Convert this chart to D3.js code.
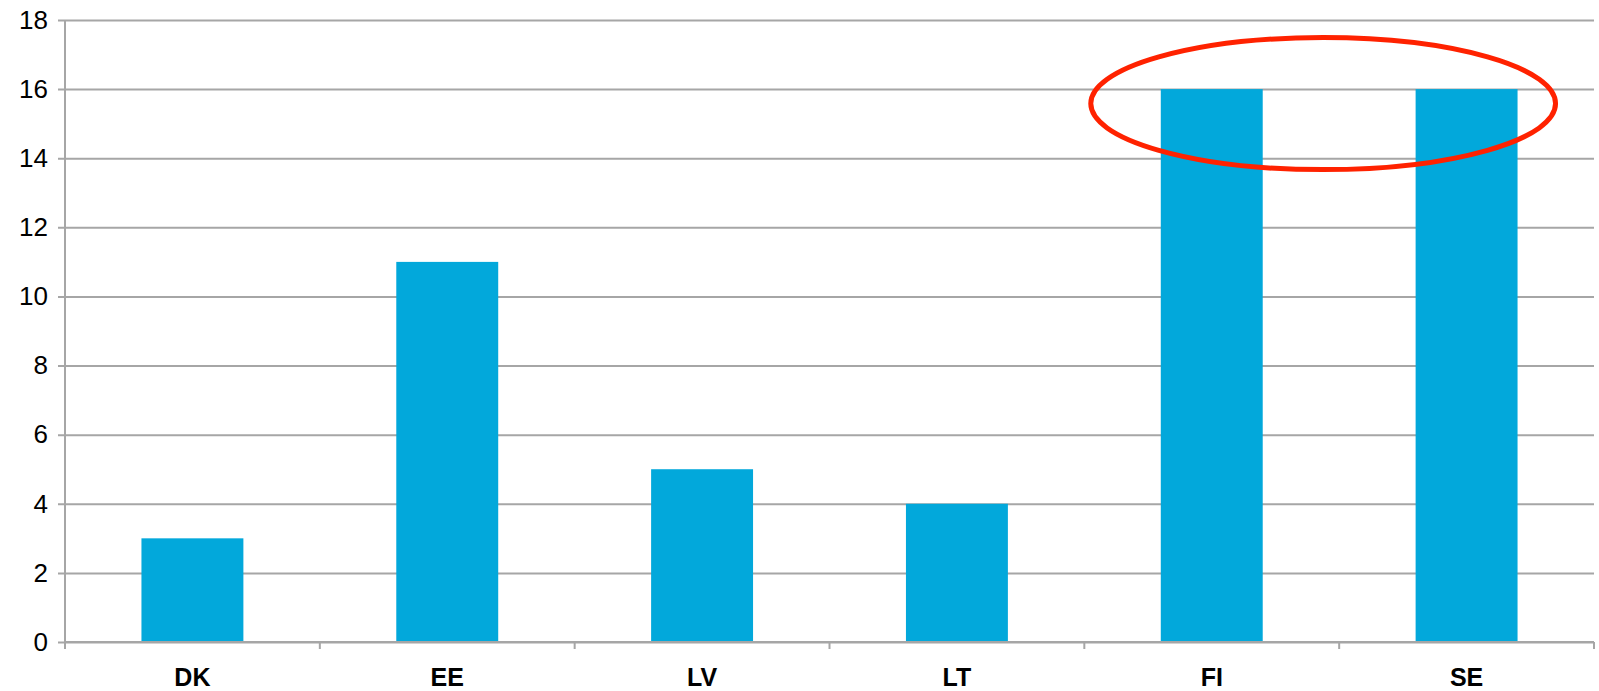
<!DOCTYPE html>
<html>
<head>
<meta charset="utf-8">
<script src="https://cdn.jsdelivr.net/npm/d3@7"></script>
<style>
  body { margin: 0; background: #fff; }
  text { font-family: "Liberation Sans", Arial, sans-serif; }
</style>
</head>
<body>
<div id="chart"></div>
<script>
// chart data
var countries = ["DK", "EE", "LV", "LT", "FI", "SE"];
var values = [3, 11, 5, 4, 16, 16];
var yTicks = [0, 2, 4, 6, 8, 10, 12, 14, 16, 18];
// highlighted categories (red ellipse)
var highlight = ["FI", "SE"];

var svgWidth = 1599;
var svgHeight = 691;

var margin = { top: 20, right: 5, bottom: 49, left: 65 };
var chartWidth = svgWidth - margin.left - margin.right;
var chartHeight = svgHeight - margin.top - margin.bottom;

var svg = d3.select("#chart")
  .append("svg")
  .attr("width", svgWidth)
  .attr("height", svgHeight);

var chartGroup = svg.append("g")
  .attr("transform", `translate(${margin.left}, ${margin.top})`);

var xScale = d3.scaleBand()
  .domain(countries)
  .range([0, chartWidth])
  .paddingInner(0.6)
  .paddingOuter(0.3);

var yScale = d3.scaleLinear()
  .domain([0, 18])
  .range([chartHeight, 0]);

// gridlines + y axis
var yAxis = d3.axisLeft(yScale)
  .tickValues(yTicks)
  .tickSize(-chartWidth)
  .tickPadding(17)
  .tickFormat(d3.format("d"));

var yG = chartGroup.append("g").call(yAxis);
yG.select(".domain").remove();
yG.selectAll(".tick line")
  .attr("x1", -7)
  .attr("stroke", "#a6a6a6")
  .attr("stroke-width", 2);
yG.selectAll(".tick text")
  .attr("font-size", "26px")
  .attr("fill", "#000");

// vertical axis line
chartGroup.append("line")
  .attr("x1", 0).attr("x2", 0)
  .attr("y1", 0).attr("y2", chartHeight + 7)
  .attr("stroke", "#a6a6a6")
  .attr("stroke-width", 2);

// bars
chartGroup.selectAll("rect.bar")
  .data(countries)
  .enter().append("rect")
  .attr("class", "bar")
  .attr("x", d => xScale(d))
  .attr("width", xScale.bandwidth())
  .attr("y", (d, i) => yScale(values[i]))
  .attr("height", (d, i) => chartHeight - yScale(values[i]))
  .attr("fill", "#02a8db");

// x axis with ticks between categories
var step = xScale.step();
var xG = chartGroup.append("g")
  .attr("transform", `translate(0, ${chartHeight})`);
xG.append("line")
  .attr("x1", 0).attr("x2", chartWidth)
  .attr("stroke", "#a6a6a6")
  .attr("stroke-width", 2);
xG.selectAll("line.tick")
  .data(d3.range(countries.length + 1))
  .enter().append("line")
  .attr("class", "tick")
  .attr("x1", i => i * step).attr("x2", i => i * step)
  .attr("y1", 0).attr("y2", 7)
  .attr("stroke", "#a6a6a6")
  .attr("stroke-width", 2);
xG.selectAll("text")
  .data(countries)
  .enter().append("text")
  .attr("x", d => xScale(d) + xScale.bandwidth() / 2)
  .attr("y", 44)
  .attr("text-anchor", "middle")
  .attr("font-size", "25px")
  .attr("font-weight", "bold")
  .attr("fill", "#000")
  .text(d => d);

// red ellipse around highlighted bars
var hx0 = xScale(highlight[0]);
var hx1 = xScale(highlight[highlight.length - 1]) + xScale.bandwidth();
var hVal = d3.max(highlight, c => values[countries.indexOf(c)]);
chartGroup.append("ellipse")
  .attr("cx", (hx0 + hx1) / 2 - 16)
  .attr("cy", yScale(hVal - 0.42))
  .attr("rx", (hx1 - hx0) / 2 + 54)
  .attr("ry", 66)
  .attr("fill", "none")
  .attr("stroke", "#ff2200")
  .attr("stroke-width", 5);
</script>
</body>
</html>
